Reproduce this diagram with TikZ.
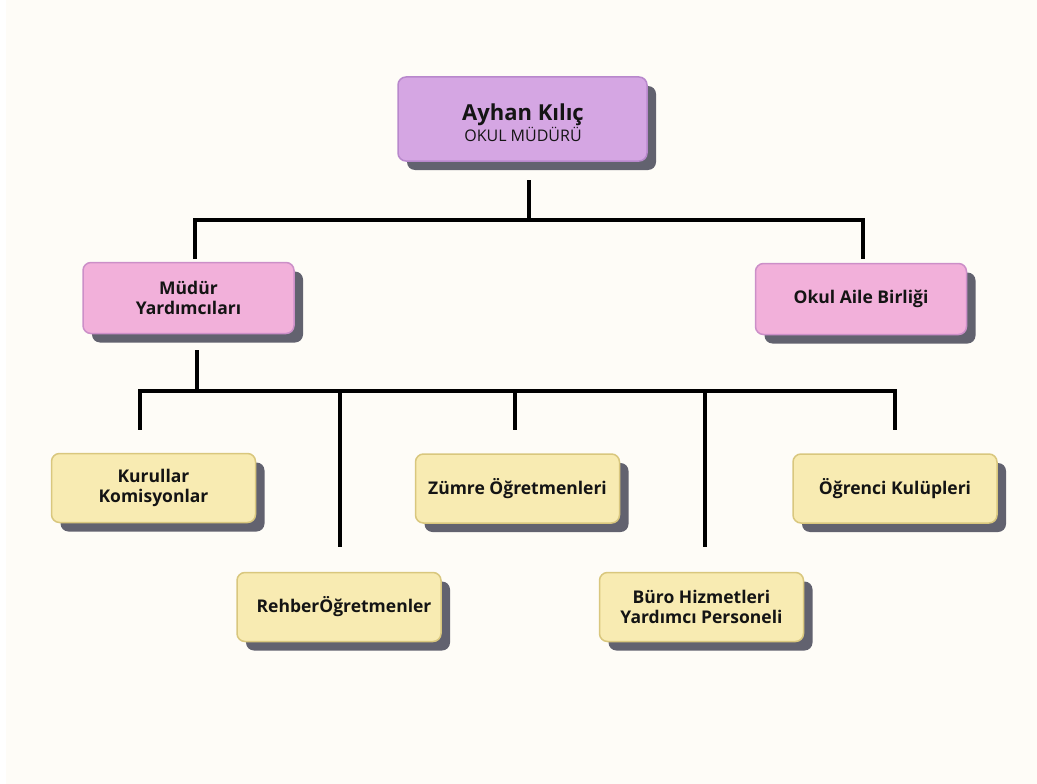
\documentclass[tikz,border=0pt]{standalone}
\usepackage{fontspec}
\setmainfont{Open Sans}
\usetikzlibrary{shadows}
\definecolor{bgcream}{HTML}{FEFCF7}
\definecolor{lilacfill}{HTML}{D5A6E3}
\definecolor{lilacline}{HTML}{B888CC}
\definecolor{pinkfill}{HTML}{F2B0DA}
\definecolor{pinkline}{HTML}{CC8FC8}
\definecolor{sandfill}{HTML}{F8EBB2}
\definecolor{sandline}{HTML}{D9C77E}
\definecolor{shadowgrey}{HTML}{62626F}
\tikzset{
  box/.style={rounded corners=8pt, line width=1.5pt, align=center, inner sep=0pt,
    text=black!92, font=\fontsize{17.5}{20.5}\selectfont\bfseries,
    drop shadow={shadow xshift=9pt, shadow yshift=-9pt, fill=shadowgrey, opacity=1}},
  headbox/.style={box, fill=lilacfill, draw=lilacline, minimum width=249pt, minimum height=84pt,
    font=\fontsize{16}{21}\selectfont},
  pinkbox/.style={box, fill=pinkfill, draw=pinkline, minimum width=211pt, minimum height=71pt},
  sandbox/.style={box, fill=sandfill, draw=sandline, minimum width=204pt, minimum height=69pt},
  link/.style={line width=4pt, black, line join=miter}
}
\begin{document}
\begin{tikzpicture}[x=1pt,y=-1pt]
\useasboundingbox (0,0) rectangle (1037,784);
\fill[white] (0,0) rectangle (1037,784);
\fill[bgcream] (6,0) rectangle (1037,784);
% boxes
\node[headbox] (head) at (522.5,119) {};
\node[align=center, font=\fontsize{16}{21}\selectfont, text=black!92, inner sep=0pt] (head text) at (523,123)
    {{\fontsize{22}{24}\selectfont\bfseries Ayhan Kılıç}\\OKUL MÜDÜRÜ};
\node[pinkbox] (mudur) at (188.5,298) {Müdür\\Yardımcıları};
\node[pinkbox] (aile) at (861,299) {Okul Aile Birliği};
\node[sandbox] (kurul) at (153.5,488) {Kurullar\\Komisyonlar};
\node[sandbox] (zumre) at (517.5,488.5) {Zümre Öğretmenleri};
\node[sandbox] (kulup) at (895,488.5) {Öğrenci Kulüpleri};
\node[sandbox] (rehber) at (339,607) {\hspace*{10pt}RehberÖğretmenler};
\node[sandbox] (buro) at (701.5,607) {Büro Hizmetleri\\Yardımcı Personeli};
% first level lines
\coordinate (head end) at (529,180);
\coordinate (bus1) at (529,220);
\coordinate (mudur end) at (195,259);
\coordinate (aile end) at (863,259);
\draw[link] (head end) -- (bus1);
\draw[link] (mudur end) |- (bus1) -| (aile end);
% second level lines
\coordinate (mudur start) at (197,350);
\coordinate (bus2) at (197,391);
\draw[link] (mudur start) -- (bus2);
\foreach \n/\x/\y in {kurul/140/430, rehber/340/547, zumre/515/430, buro/705/547, kulup/895/430}
    \draw[link] (bus2) -| (\x,\y) coordinate (\n end);
\end{tikzpicture}
\end{document}
